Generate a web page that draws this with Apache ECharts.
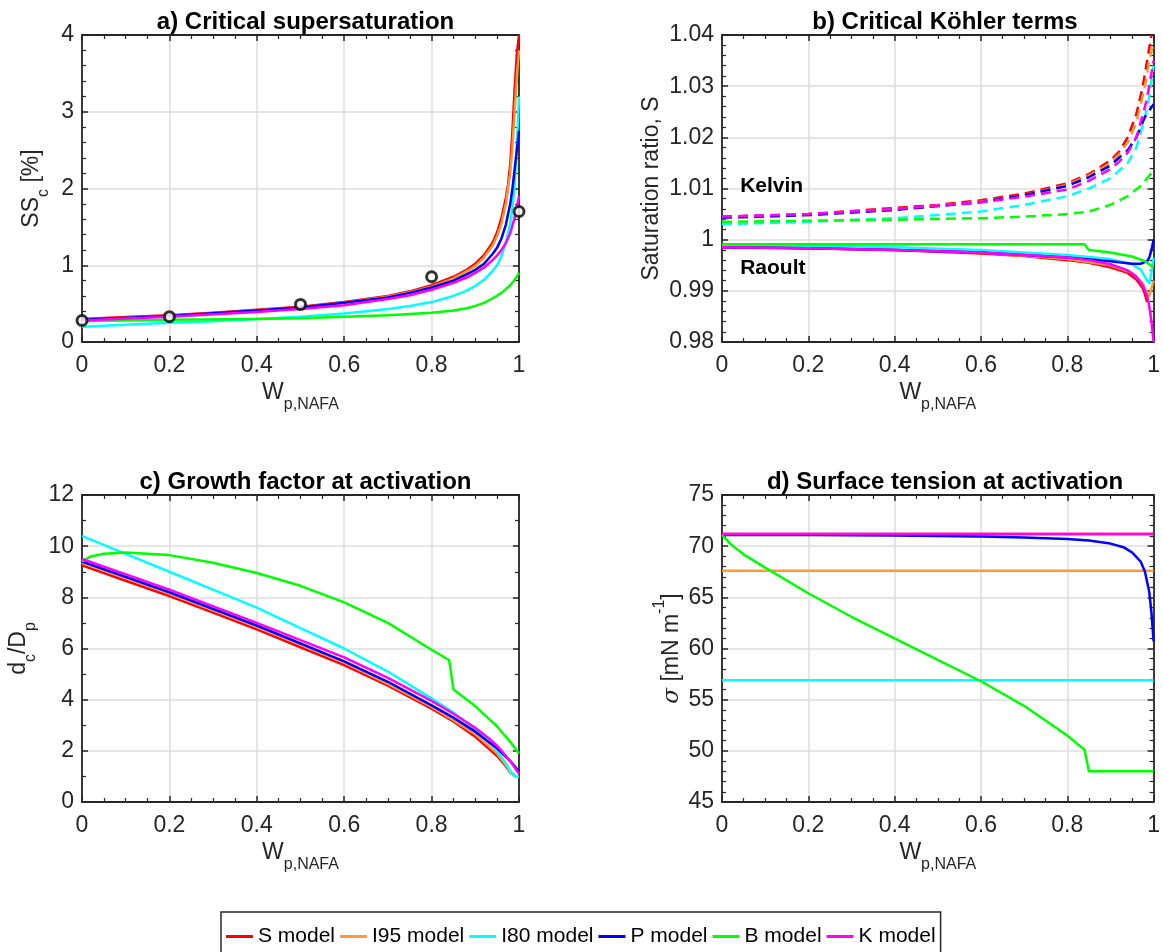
<!DOCTYPE html>
<html>
<head>
<meta charset="utf-8">
<script src="https://cdn.jsdelivr.net/npm/echarts@6/dist/echarts.min.js"></script>
<style>
  html, body { margin: 0; padding: 0; background: #fff; }
  #chart { width: 1163px; height: 952px; }
</style>
</head>
<body>
<div id="chart"></div>
<script>
// model names and colours (legend order)
var models = ['S model', 'I95 model', 'I80 model', 'P model', 'B model', 'K model'];
var colors = ['#ff0000', '#ff9933', '#00ffff', '#0000ff', '#00ff00', '#ff00ff'];

// a) critical supersaturation [%]
var ssS = [[0,0.30],[0.1,0.325],[0.2,0.35],[0.3,0.38],[0.4,0.42],[0.5,0.46],[0.6,0.52],[0.7,0.60],[0.75,0.66],[0.8,0.74],[0.85,0.85],[0.88,0.94],[0.9,1.02],[0.92,1.13],[0.94,1.3],[0.95,1.43],[0.96,1.62],[0.97,1.88],[0.975,2.05],[0.98,2.32],[0.985,2.75],[0.99,3.3],[0.995,3.75],[1.0,4.0]];
var ssI95 = [[0,0.29],[0.2,0.34],[0.4,0.41],[0.5,0.45],[0.6,0.51],[0.7,0.59],[0.75,0.65],[0.8,0.72],[0.85,0.83],[0.88,0.92],[0.9,0.99],[0.92,1.1],[0.94,1.26],[0.95,1.38],[0.96,1.55],[0.97,1.8],[0.98,2.2],[0.985,2.55],[0.99,3.0],[0.995,3.45],[1.0,3.8]];
var ssI80 = [[0,0.2],[0.1,0.225],[0.2,0.25],[0.3,0.27],[0.4,0.3],[0.5,0.33],[0.6,0.37],[0.7,0.43],[0.75,0.47],[0.8,0.52],[0.85,0.6],[0.88,0.67],[0.9,0.73],[0.92,0.81],[0.94,0.93],[0.95,1.0],[0.96,1.12],[0.97,1.3],[0.98,1.55],[0.985,1.75],[0.99,2.05],[0.995,2.55],[1.0,3.2]];
var ssP = [[0,0.29],[0.2,0.34],[0.4,0.41],[0.5,0.45],[0.6,0.51],[0.7,0.58],[0.75,0.64],[0.8,0.71],[0.85,0.8],[0.88,0.88],[0.9,0.94],[0.92,1.02],[0.94,1.15],[0.95,1.23],[0.96,1.35],[0.97,1.53],[0.98,1.8],[0.985,2.0],[0.99,2.25],[0.995,2.5],[1.0,2.75]];
var ssB = [[0,0.27],[0.2,0.29],[0.4,0.3],[0.5,0.31],[0.6,0.33],[0.7,0.35],[0.8,0.38],[0.85,0.41],[0.88,0.44],[0.9,0.47],[0.92,0.51],[0.94,0.57],[0.96,0.64],[0.98,0.74],[0.99,0.81],[1.0,0.9]];
var ssK = [[0,0.28],[0.2,0.33],[0.4,0.39],[0.5,0.43],[0.6,0.48],[0.7,0.56],[0.75,0.61],[0.8,0.68],[0.85,0.77],[0.88,0.84],[0.9,0.9],[0.92,0.97],[0.94,1.07],[0.95,1.13],[0.96,1.2],[0.97,1.29],[0.98,1.42],[0.99,1.62],[1.0,1.9]];
var ssObs = [[0,0.28],[0.2,0.33],[0.5,0.49],[0.8,0.85],[1.0,1.7]];

// b) critical Köhler terms: Kelvin (dashed) and Raoult (solid)
var kelS = [[0,1.0045],[0.2,1.005],[0.4,1.0062],[0.5,1.0068],[0.6,1.0077],[0.7,1.009],[0.8,1.011],[0.85,1.0128],[0.9,1.0155],[0.92,1.0172],[0.94,1.02],[0.96,1.0245],[0.975,1.03],[0.985,1.035],[0.995,1.04]];
var kelI95 = [[0,1.0042],[0.2,1.0048],[0.4,1.0059],[0.6,1.0074],[0.7,1.0087],[0.8,1.0107],[0.85,1.0125],[0.9,1.015],[0.92,1.0167],[0.94,1.019],[0.96,1.0228],[0.98,1.03],[0.99,1.035],[1.0,1.0385]];
var kelI80 = [[0,1.003],[0.2,1.0035],[0.4,1.0042],[0.6,1.0055],[0.7,1.0068],[0.8,1.0085],[0.85,1.01],[0.9,1.012],[0.92,1.0135],[0.94,1.015],[0.96,1.018],[0.98,1.024],[0.99,1.028],[1.0,1.034]];
var kelP = [[0,1.0043],[0.2,1.0048],[0.4,1.0058],[0.6,1.0073],[0.7,1.0087],[0.8,1.0105],[0.85,1.0122],[0.9,1.0145],[0.92,1.016],[0.94,1.0175],[0.96,1.02],[0.98,1.024],[1.0,1.0265]];
var kelB = [[0,1.0035],[0.2,1.0037],[0.4,1.0039],[0.6,1.0042],[0.7,1.0045],[0.8,1.005],[0.85,1.0055],[0.9,1.0068],[0.94,1.0085],[0.97,1.0105],[1.0,1.0135]];
var kelK = [[0,1.0045],[0.2,1.005],[0.4,1.006],[0.6,1.0073],[0.7,1.0084],[0.8,1.0098],[0.85,1.0115],[0.9,1.0138],[0.92,1.0152],[0.94,1.017],[0.96,1.02],[0.98,1.026],[0.99,1.03],[1.0,1.035]];
var raoS = [[0,0.9985],[0.2,0.9983],[0.4,0.998],[0.6,0.9973],[0.7,0.9968],[0.8,0.996],[0.85,0.9955],[0.9,0.9946],[0.94,0.9935],[0.96,0.9922],[0.975,0.9905],[0.98,0.9893],[0.985,0.9878]];
var raoI95 = [[0,0.9986],[0.2,0.9984],[0.4,0.9981],[0.6,0.9975],[0.8,0.9962],[0.9,0.995],[0.95,0.9935],[0.975,0.9915],[0.985,0.9895],[0.99,0.989],[0.995,0.9905],[1.0,0.992]];
var raoI80 = [[0,0.999],[0.2,0.9988],[0.4,0.9985],[0.6,0.998],[0.8,0.997],[0.9,0.9962],[0.95,0.9952],[0.97,0.9942],[0.985,0.992],[0.99,0.9915],[0.995,0.9935],[1.0,0.9965]];
var raoP = [[0,0.9985],[0.2,0.9983],[0.4,0.998],[0.6,0.9975],[0.8,0.9965],[0.9,0.9958],[0.95,0.9953],[0.97,0.9953],[0.985,0.9958],[0.99,0.9965],[0.995,0.998],[1.0,1.0]];
var raoB = [[0,0.9991],[0.4,0.9991],[0.84,0.9991],[0.85,0.998],[0.9,0.9975],[0.95,0.9967],[0.98,0.9958],[1.0,0.9946]];
var raoK = [[0,0.9985],[0.2,0.9983],[0.4,0.998],[0.6,0.9975],[0.8,0.9965],[0.85,0.996],[0.9,0.9952],[0.94,0.994],[0.96,0.9928],[0.975,0.991],[0.985,0.989],[0.99,0.987],[0.995,0.984],[1.0,0.98]];

// c) growth factor at activation
var gfS = [[0,9.25],[0.1,8.65],[0.2,8.05],[0.3,7.4],[0.4,6.75],[0.5,6.05],[0.6,5.35],[0.7,4.55],[0.8,3.65],[0.85,3.15],[0.9,2.55],[0.93,2.1],[0.95,1.8],[0.97,1.4],[0.98,1.15],[0.99,1.05]];
var gfI95 = [[0,9.35],[0.2,8.15],[0.4,6.85],[0.6,5.45],[0.7,4.62],[0.8,3.72],[0.85,3.2],[0.9,2.65],[0.93,2.2],[0.95,1.9],[0.97,1.45],[0.98,1.15],[0.99,1.05]];
var gfI80 = [[0,10.4],[0.1,9.7],[0.2,9.0],[0.3,8.3],[0.4,7.6],[0.5,6.8],[0.6,6.0],[0.7,5.1],[0.8,4.05],[0.85,3.5],[0.9,2.85],[0.93,2.4],[0.95,2.0],[0.97,1.5],[0.98,1.2],[0.99,1.0],[1.0,1.0]];
var gfP = [[0,9.4],[0.2,8.2],[0.4,6.9],[0.6,5.5],[0.7,4.7],[0.8,3.78],[0.85,3.3],[0.9,2.75],[0.93,2.35],[0.95,2.1],[0.98,1.6],[1.0,1.2]];
var gfB = [[0,9.4],[0.02,9.6],[0.05,9.7],[0.1,9.75],[0.2,9.65],[0.3,9.35],[0.4,8.95],[0.5,8.45],[0.6,7.8],[0.7,7.0],[0.8,5.95],[0.84,5.55],[0.85,4.4],[0.9,3.75],[0.95,2.95],[0.98,2.35],[1.0,1.9]];
var gfK = [[0,9.5],[0.2,8.3],[0.4,7.0],[0.6,5.65],[0.7,4.85],[0.8,3.95],[0.85,3.45],[0.9,2.9],[0.93,2.5],[0.95,2.2],[0.98,1.6],[1.0,1.1]];

// d) surface tension at activation [mN/m]
var stS = [[0,71.2],[1,71.2]];
var stI95 = [[0,67.6],[1,67.6]];
var stI80 = [[0,56.9],[1,56.9]];
var stP = [[0,71.1],[0.2,71.1],[0.4,71.05],[0.6,70.95],[0.7,70.85],[0.8,70.7],[0.85,70.55],[0.9,70.25],[0.93,69.9],[0.95,69.4],[0.97,68.5],[0.98,67.5],[0.99,65.5],[0.995,63.5],[1.0,60.7]];
var stB = [[0,71.1],[0.02,70.2],[0.05,69.2],[0.1,67.9],[0.2,65.4],[0.3,63.1],[0.4,61.0],[0.5,58.9],[0.6,56.8],[0.7,54.4],[0.8,51.5],[0.84,50.1],[0.85,48.0],[1.0,48.0]];
var stK = [[0,71.2],[1,71.2]];

var titles = ['a) Critical supersaturation', 'b) Critical Köhler terms', 'c) Growth factor at activation', 'd) Surface tension at activation'];

var font = "'Liberation Sans', Arial, Helvetica, sans-serif";
var ink = '#262626';
var rich = {
    m: { fontSize: 23, lineHeight: 40, color: ink, fontFamily: font },
    i: { fontSize: 23, lineHeight: 40, color: ink, fontFamily: "'DejaVu Serif', serif", fontStyle: 'italic' },
    s: { fontSize: 16, lineHeight: 16, verticalAlign: 'bottom', color: ink, fontFamily: font },
    p: { fontSize: 16, lineHeight: 12, verticalAlign: 'top', color: ink, fontFamily: font }
};

var grids = [
    { left: 82, top: 35, width: 437, height: 307 },
    { left: 722, top: 35, width: 436, height: 307 },
    { left: 82, top: 495, width: 437, height: 307 },
    { left: 722, top: 495, width: 436, height: 307 }
];

function lineOpts(minorSplit) {
    return {
        axisLine: { show: true, onZero: false, lineStyle: { color: ink, width: 1.8 } },
        axisTick: { show: true, inside: true, length: 6, lineStyle: { color: ink, width: 1.5 } },
        minorTick: { show: true, splitNumber: minorSplit, length: 4, lineStyle: { color: ink, width: 1.2 } }
    };
}

var xAxes = [], yAxes = [];
var yCfg = [
    { min: 0, max: 4, interval: 1, minor: 5, name: '{m|SS}{s|c}{m| [%]}', gap: 30 },
    { min: 0.98, max: 1.04, interval: 0.01, minor: 5, name: '{m|Saturation ratio, S}', gap: 50 },
    { min: 0, max: 12, interval: 2, minor: 2, name: '{m|d}{s|c}{m|/D}{s|p}', gap: 43 },
    { min: 45, max: 75, interval: 5, minor: 5, name: '{i|σ}{m| [mN m}{p|-1}{m|]}', gap: 30 }
];
for (var g = 0; g < 4; g++) {
    xAxes.push(Object.assign({
        type: 'value', gridIndex: g, position: 'bottom', min: 0, max: 1, interval: 0.2,
        name: '{m|W}{s|p,NAFA}', nameLocation: 'middle', nameGap: 31,
        nameTextStyle: { rich: rich },
        axisLabel: { color: ink, fontSize: 23, fontFamily: font, margin: 12 },
        splitLine: { show: true, lineStyle: { color: '#dedede', width: 1.5 } }
    }, lineOpts(4)));
    xAxes.push(Object.assign({
        type: 'value', gridIndex: g, position: 'top', min: 0, max: 1, interval: 0.2,
        axisLabel: { show: false }, splitLine: { show: false }
    }, lineOpts(4)));
    var c = yCfg[g];
    yAxes.push(Object.assign({
        type: 'value', gridIndex: g, position: 'left', min: c.min, max: c.max, interval: c.interval,
        name: c.name, nameLocation: 'middle', nameGap: c.gap, nameRotate: 90,
        nameTextStyle: { rich: rich },
        axisLabel: { color: ink, fontSize: 23, fontFamily: font, margin: 8 },
        splitLine: { show: true, lineStyle: { color: '#dedede', width: 1.5 } }
    }, lineOpts(c.minor)));
    yAxes.push(Object.assign({
        type: 'value', gridIndex: g, position: 'right', min: c.min, max: c.max, interval: c.interval,
        axisLabel: { show: false }, splitLine: { show: false }
    }, lineOpts(c.minor)));
}

var series = [];
function addLines(g, sets, dashed) {
    sets.forEach(function (d, k) {
        series.push({
            name: models[k], type: 'line', xAxisIndex: 2 * g, yAxisIndex: 2 * g,
            data: d, showSymbol: false, symbol: 'none', smooth: false,
            lineStyle: { color: colors[k], width: 2.5, type: dashed ? [10, 6] : 'solid', join: 'round' },
            itemStyle: { color: colors[k] },
            clip: true, animation: false, z: 2 + k
        });
    });
}
addLines(0, [ssS, ssI95, ssI80, ssP, ssB, ssK], false);
series.push({
    type: 'scatter', xAxisIndex: 0, yAxisIndex: 0, data: ssObs, symbol: 'circle', symbolSize: 10,
    itemStyle: { color: '#ffffff', borderColor: '#000', borderWidth: 3 }, z: 20, animation: false, clip: false
});
addLines(1, [kelS, kelI95, kelI80, kelP, kelB, kelK], true);
addLines(1, [raoS, raoI95, raoI80, raoP, raoB, raoK], false);
addLines(2, [gfS, gfI95, gfI80, gfP, gfB, gfK], false);
addLines(3, [stS, stI95, stI80, stP, stB, stK], false);

var chart = echarts.init(document.getElementById('chart'), null, { renderer: 'canvas' });
chart.setOption({
    animation: false,
    backgroundColor: '#fff',
    title: titles.map(function (t, i) {
        return {
            text: t, left: grids[i].left + grids[i].width / 2, top: grids[i].top - 30, textAlign: 'center',
            textStyle: { fontSize: 24, fontWeight: 'bold', color: '#000', fontFamily: font }
        };
    }),
    grid: grids,
    xAxis: xAxes,
    yAxis: yAxes,
    legend: {
        data: models, left: 221, top: 912, orient: 'horizontal',
        icon: 'rect', itemWidth: 27, itemHeight: 3, itemGap: 5,
        borderColor: ink, borderWidth: 1.5, padding: [14, 5, 12, 5],
        textStyle: { fontSize: 21, color: '#000', fontFamily: font },
        selectedMode: false
    },
    series: series
});

var kPos = chart.convertToPixel({ gridIndex: 1 }, [0.042, 1.0105]);
var rPos = chart.convertToPixel({ gridIndex: 1 }, [0.042, 0.9945]);
chart.setOption({
    graphic: [
        { type: 'text', x: kPos[0], y: kPos[1], style: { text: 'Kelvin', fill: '#000', font: 'bold 21px ' + font, verticalAlign: 'middle' }, z: 30 },
        { type: 'text', x: rPos[0], y: rPos[1], style: { text: 'Raoult', fill: '#000', font: 'bold 21px ' + font, verticalAlign: 'middle' }, z: 30 }
    ]
});
</script>
</body>
</html>
